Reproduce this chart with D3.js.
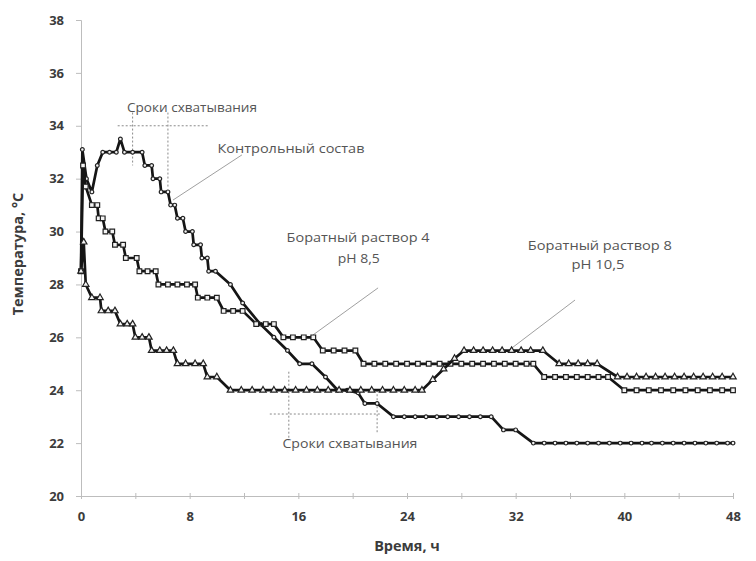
<!DOCTYPE html>
<html><head><meta charset="utf-8">
<script src="https://cdn.jsdelivr.net/npm/d3@7"></script>
<style>
body{margin:0;background:#fff;}
text{font-family:'Open Sans','Noto Sans',sans-serif;}
</style>
</head><body>
<svg id="chart" width="756" height="561"></svg>
<script>
// ---------- DATA ----------
const xTickValues = [0, 4, 8, 12, 16, 20, 24, 28, 32, 36, 40, 44, 48];
const xTickLabels = [0, 8, 16, 24, 32, 40, 48];
const yTickValues = [20, 22, 24, 26, 28, 30, 32, 34, 36, 38];
const xTitle = "Время, ч";
const yTitle = "Температура, °С";

// Контрольный состав (circles)
const ctrlTime = [0, 0.1, 0.4, 0.8, 1.2, 1.6, 2.1, 2.6, 2.9, 3.2, 3.8, 4.5, 4.7, 5.2, 5.3, 5.8, 5.9, 6.4, 6.6, 6.9,
  7.1, 7.5, 7.7, 8.2, 8.3, 8.8, 8.9, 9.3, 9.4, 9.9, 11.0, 11.9, 13.2, 14.2, 15.2, 16.1, 17.0, 18.0, 18.9, 19.6,
  20.4, 20.9, 21.8, 23.0, 23.8, 24.6, 25.4, 26.2, 27.0, 27.8, 28.6, 29.4, 30.2, 31.1, 32.0, 33.3, 34.1, 34.9, 35.7, 36.5,
  37.3, 38.1, 38.9, 39.7, 40.5, 41.3, 42.0, 42.8, 43.6, 44.4, 45.2, 46.0, 46.8, 47.6, 48.0];
const ctrlTemp = [28.5, 33.1, 32.0, 31.5, 32.5, 33.0, 33.0, 33.0, 33.5, 33.0, 33.0, 33.0, 32.5, 32.5, 32.0, 32.0, 31.5, 31.5, 31.0, 31.0,
  30.5, 30.5, 30.0, 30.0, 29.5, 29.5, 29.0, 29.0, 28.5, 28.5, 28.0, 27.3, 26.5, 26.0, 25.5, 25.0, 25.0, 24.5, 24.0, 24.0,
  23.9, 23.5, 23.5, 23.0, 23.0, 23.0, 23.0, 23.0, 23.0, 23.0, 23.0, 23.0, 23.0, 22.5, 22.5, 22.0, 22.0, 22.0, 22.0, 22.0,
  22.0, 22.0, 22.0, 22.0, 22.0, 22.0, 22.0, 22.0, 22.0, 22.0, 22.0, 22.0, 22.0, 22.0, 22.0];

// Боратный раствор 4, pH 8,5 (squares)
const bor4Time = [0, 0.15, 0.35, 0.8, 1.2, 1.3, 1.6, 1.8, 2.3, 2.5, 3.1, 3.3, 4.1, 4.3, 4.9, 5.5, 5.7, 6.4, 7.1, 7.8,
  8.4, 8.6, 9.3, 10.0, 10.5, 11.2, 11.9, 12.9, 13.6, 14.2, 14.9, 15.6, 16.4, 17.1, 17.8, 18.6, 19.4, 20.2, 20.8, 21.6,
  22.4, 23.2, 24.0, 24.8, 25.6, 26.4, 27.2, 28.0, 28.8, 29.6, 30.4, 31.2, 32.0, 32.8, 33.3, 34.1, 34.9, 35.7, 36.5, 37.3,
  38.1, 38.8, 40.0, 40.9, 41.8, 42.7, 43.6, 44.5, 45.4, 46.3, 47.2, 48.0];
const bor4Temp = [28.5, 32.5, 31.7, 31.0, 31.0, 30.5, 30.5, 30.0, 30.0, 29.5, 29.5, 29.0, 29.0, 28.5, 28.5, 28.5, 28.0, 28.0, 28.0, 28.0,
  28.0, 27.5, 27.5, 27.5, 27.0, 27.0, 27.0, 26.5, 26.5, 26.5, 26.0, 26.0, 26.0, 26.0, 25.5, 25.5, 25.5, 25.5, 25.0, 25.0,
  25.0, 25.0, 25.0, 25.0, 25.0, 25.0, 25.0, 25.0, 25.0, 25.0, 25.0, 25.0, 25.0, 25.0, 25.0, 24.5, 24.5, 24.5, 24.5, 24.5,
  24.5, 24.5, 24.0, 24.0, 24.0, 24.0, 24.0, 24.0, 24.0, 24.0, 24.0, 24.0];

// Боратный раствор 8, pH 10,5 (triangles)
const bor8Time = [0, 0.2, 0.35, 0.8, 1.4, 1.5, 2.0, 2.5, 2.9, 3.4, 3.8, 4.0, 4.5, 5.0, 5.2, 5.8, 6.3, 6.8, 7.1, 7.7,
  8.4, 9.0, 9.3, 10.0, 11.0, 11.8, 12.6, 13.4, 14.2, 15.0, 15.8, 16.6, 17.4, 18.2, 19.0, 19.8, 20.6, 21.4, 22.2, 23.0,
  23.8, 24.6, 25.1, 25.9, 26.7, 27.5, 28.2, 28.9, 29.6, 30.3, 31.0, 31.7, 32.4, 33.1, 34.0, 35.2, 35.9, 36.6, 37.3, 38.0,
  39.5, 40.2, 40.9, 41.6, 42.3, 43.0, 43.7, 44.4, 45.1, 45.8, 46.5, 47.2, 48.0];
const bor8Temp = [28.5, 29.6, 28.0, 27.5, 27.5, 27.0, 27.0, 27.0, 26.5, 26.5, 26.5, 26.0, 26.0, 26.0, 25.5, 25.5, 25.5, 25.5, 25.0, 25.0,
  25.0, 25.0, 24.5, 24.5, 24.0, 24.0, 24.0, 24.0, 24.0, 24.0, 24.0, 24.0, 24.0, 24.0, 24.0, 24.0, 24.0, 24.0, 24.0, 24.0,
  24.0, 24.0, 24.0, 24.4, 24.8, 25.2, 25.5, 25.5, 25.5, 25.5, 25.5, 25.5, 25.5, 25.5, 25.5, 25.0, 25.0, 25.0, 25.0, 25.0,
  24.5, 24.5, 24.5, 24.5, 24.5, 24.5, 24.5, 24.5, 24.5, 24.5, 24.5, 24.5, 24.5];

const seriesNames = ["Контрольный состав", "Боратный раствор 4", "Боратный раствор 8"];
const seriesSubs = ["", "pH 8,5", "pH 10,5"];
const setLabel = "Сроки схватывания";

// ---------- CHART ----------
const svg = d3.select("#chart");
svg.append("rect").attr("width", 756).attr("height", 561).attr("fill", "#fff");

const x = d3.scaleLinear().domain([0, 48]).range([81, 733]);
const y = d3.scaleLinear().domain([20, 38]).range([496, 20]);

const axisColor = "#bdbdbd";
const labelColor = "#3c3c3c";

// Y axis
const gy = svg.append("g").attr("transform", `translate(${x(0)},0)`)
  .call(d3.axisLeft(y).tickValues(yTickValues).tickSize(5).tickPadding(12).tickFormat(d3.format("d")));
gy.select(".domain").attr("stroke", axisColor);
gy.selectAll(".tick line").attr("stroke", axisColor);
gy.selectAll(".tick text").attr("fill", labelColor).attr("font-size", 13).attr("font-weight", 700);

// X axis
const gx = svg.append("g").attr("transform", `translate(0,${y(20)})`)
  .call(d3.axisBottom(x).tickValues(xTickValues).tickSize(3)
    .tickFormat(d => xTickLabels.includes(d) ? d : ""));
gx.select(".domain").attr("stroke", axisColor);
gx.selectAll(".tick line").attr("stroke", axisColor).attr("y1", -3).attr("y2", 3);
gx.selectAll(".tick text").attr("fill", labelColor).attr("font-size", 13).attr("font-weight", 700)
  .attr("y", 16);

// Axis titles
svg.append("text").attr("x", 407).attr("y", 551).attr("text-anchor", "middle")
  .attr("font-size", 14.5).attr("font-weight", 700).attr("fill", labelColor).text(xTitle);
svg.append("text").attr("transform", "translate(23,254) rotate(-90)").attr("text-anchor", "middle")
  .attr("font-size", 14.5).attr("font-weight", 700).attr("fill", labelColor).text(yTitle);

// Annotation helper lines (dashed) - setting times
const dash = svg.append("g").attr("stroke", "#8a8a8a").attr("stroke-width", 1).attr("stroke-dasharray", "2,2").attr("fill", "none");
const topV = [[3.8, 34.5, 32.5], [6.4, 34.5, 31.7]];
const topH = [2.7, 9.4, 34.0];
const botV = [[15.3, 24.7, 22.1], [21.8, 24.0, 22.4]];
const botH = [13.9, 22.0, 23.1];
[...topV, ...botV].forEach(v => dash.append("line").attr("x1", x(v[0])).attr("x2", x(v[0])).attr("y1", y(v[1])).attr("y2", y(v[2])));
[topH, botH].forEach(h => dash.append("line").attr("x1", x(h[0])).attr("x2", x(h[1])).attr("y1", y(h[2])).attr("y2", y(h[2])));

// Leader lines
const leaders = [[11.85, 32.9, 6.77, 31.19], [21.87, 27.87, 17.08, 26.09], [36.37, 27.41, 31.73, 25.6]];
svg.append("g").attr("stroke", "#a0a0a0").attr("stroke-width", 1)
  .selectAll("line").data(leaders).join("line")
  .attr("x1", d => x(d[0])).attr("y1", d => y(d[1])).attr("x2", d => x(d[2])).attr("y2", d => y(d[3]));

// Series
const series = [
  {t: ctrlTime, v: ctrlTemp, sym: d3.symbolCircle, size: 11},
  {t: bor4Time, v: bor4Temp, sym: d3.symbolSquare, size: 22},
  {t: bor8Time, v: bor8Temp, sym: d3.symbolTriangle, size: 18}
];
const line = d3.line().x(d => x(d[0])).y(d => y(d[1]));
series.forEach(s => {
  const pts = d3.zip(s.t, s.v);
  svg.append("path").datum(pts).attr("d", line).attr("fill", "none")
    .attr("stroke", "#151515").attr("stroke-width", 2.7).attr("stroke-linejoin", "round");
  svg.append("g").selectAll("path").data(pts).join("path")
    .attr("transform", d => `translate(${x(d[0])},${y(d[1])})`)
    .attr("d", d3.symbol().type(s.sym).size(s.size))
    .attr("fill", "#f4f4f4").attr("stroke", "#222").attr("stroke-width", 1.2);
});

// Text annotations
const ann = svg.append("g").attr("fill", "#555").attr("font-size", 13).attr("text-anchor", "middle");
const labels = [
  [setLabel, 8.17, 34.71, 130],
  [seriesNames[0], 15.46, 33.16, 147],
  [seriesNames[1], 20.4, 29.79, 143],
  [seriesSubs[1], 20.45, 29.0, 42],
  [seriesNames[2], 38.2, 29.49, 144],
  [seriesSubs[2], 38.06, 28.74, 53],
  [setLabel, 19.8, 22.0, 135]
];
labels.forEach(l => {
  ann.append("text").attr("x", x(l[1])).attr("y", y(l[2])).attr("dy", "0.35em")
    .attr("textLength", l[3]).attr("lengthAdjust", "spacingAndGlyphs").text(l[0]);
});
</script>
</body></html>
